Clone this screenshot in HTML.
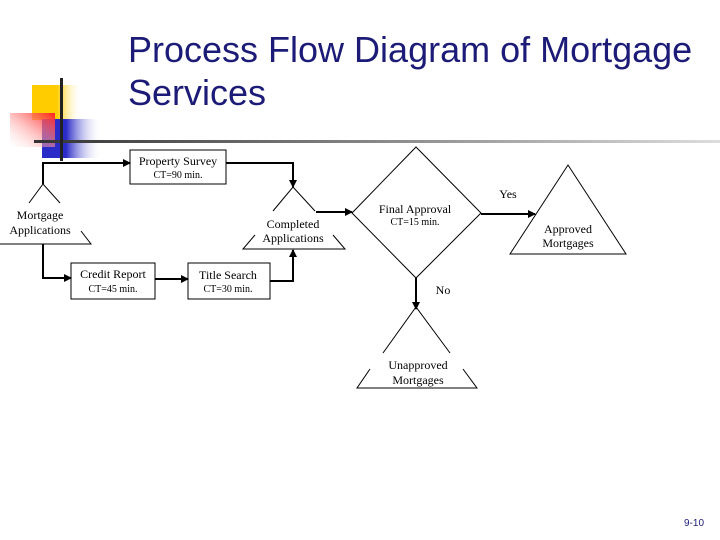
<!DOCTYPE html>
<html><head><meta charset="utf-8"><style>
html,body{margin:0;padding:0;background:#fff;}
body{width:720px;height:540px;position:relative;overflow:hidden;}
.t{position:absolute;font-family:"Liberation Sans",sans-serif;font-size:36px;color:#1c1c78;left:128px;line-height:44px;white-space:nowrap;}
svg text{font-family:"Liberation Serif",serif;fill:#000;}
</style></head><body>
<svg width="720" height="540" style="position:absolute;left:0;top:0">
<defs>
<linearGradient id="y" x1="0" x2="1"><stop offset="0.5" stop-color="#ffcc00"/><stop offset="1" stop-color="#fff" stop-opacity="0"/></linearGradient>
<linearGradient id="b" x1="0" x2="1"><stop offset="0.4" stop-color="#2b2bc8"/><stop offset="1" stop-color="#fff" stop-opacity="0"/></linearGradient>
<linearGradient id="r" x1="1" x2="0" y1="0" y2="1"><stop offset="0" stop-color="#ff2020"/><stop offset="1" stop-color="#fff" stop-opacity="0.2"/></linearGradient>
<linearGradient id="h" x1="0" x2="1"><stop offset="0" stop-color="#333"/><stop offset="1" stop-color="#ddd"/></linearGradient>
<marker id="a" markerWidth="8" markerHeight="8" refX="7" refY="4" orient="auto" markerUnits="userSpaceOnUse"><path d="M0,0 L8,4 L0,8z" fill="#000"/></marker>
</defs>
<rect x="32" y="85" width="50" height="35" fill="url(#y)"/>
<rect x="42" y="119" width="60" height="39" fill="url(#b)"/>
<rect x="10" y="113" width="45" height="34" fill="url(#r)"/>
<rect x="34" y="140" width="686" height="3" fill="url(#h)"/>
<rect x="60" y="78" width="3" height="83" fill="#222"/>
<g stroke="#000" fill="none" stroke-width="1">
<rect x="130" y="150" width="96" height="34"/>
<rect x="71" y="263" width="84" height="36"/>
<rect x="188" y="263" width="82" height="36"/>
<path d="M352,213 L416,147 L481,213 L416,278Z"/>
<path d="M29,203 L43,184 L60,203 M0,244 L91,244 L81,231"/>
<path d="M273,211 L293,187 L315,211 M255,235 L243,249 L345,249 L333,235"/>
<path d="M510,254 L568,165 L626,254Z"/>
<path d="M383,353 L416,307 L450,353 M370,369 L357,388 L477,388 L463,369"/>
</g>
<g stroke="#000" fill="none" stroke-width="2" marker-end="url(#a)">
<path d="M43,184 L43,163 L130,163"/>
<path d="M226,163 L293,163 L293,187"/>
<path d="M43,244 L43,278 L71,278"/>
<path d="M155,279 L188,279"/>
<path d="M270,281 L293,281 L293,250"/>
<path d="M316,212 L352,212"/>
<path d="M481,214 L535,214"/>
<path d="M416,278 L416,309"/>
</g>
<g font-size="12" text-anchor="middle">
<text x="178" y="165">Property Survey</text>
<text x="178" y="178" font-size="10">CT=90 min.</text>
<text x="40" y="219">Mortgage</text>
<text x="40" y="234">Applications</text>
<text x="113" y="278">Credit Report</text>
<text x="113" y="292" font-size="10">CT=45 min.</text>
<text x="228" y="279">Title Search</text>
<text x="228" y="292" font-size="10">CT=30 min.</text>
<text x="293" y="228">Completed</text>
<text x="293" y="242">Applications</text>
<text x="415" y="213">Final Approval</text>
<text x="415" y="225" font-size="10">CT=15 min.</text>
<text x="508" y="198">Yes</text>
<text x="568" y="233">Approved</text>
<text x="568" y="247">Mortgages</text>
<text x="443" y="294">No</text>
<text x="418" y="369">Unapproved</text>
<text x="418" y="384">Mortgages</text>
</g>
<text x="684" y="526" font-size="10" style="font-family:'Liberation Sans',sans-serif;fill:#1c1c78">9-10</text>
</svg>
<div class="t" style="top:28px">Process Flow Diagram of Mortgage</div>
<div class="t" style="top:71px">Services</div>
</body></html>
